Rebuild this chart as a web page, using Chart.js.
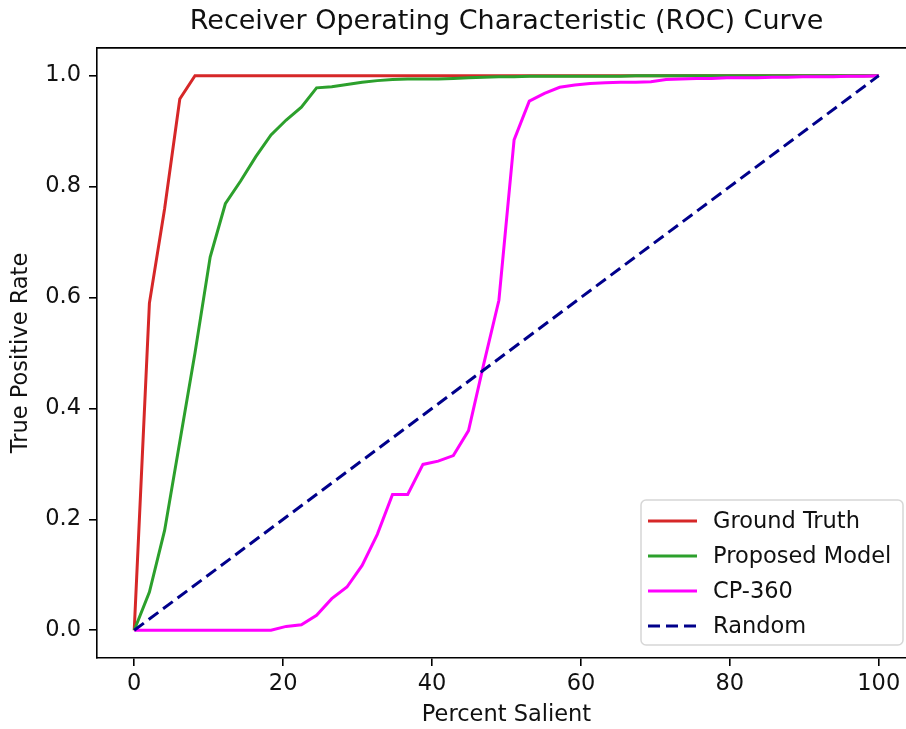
<!DOCTYPE html>
<html>
<head>
<meta charset="utf-8">
<script src="https://cdn.jsdelivr.net/npm/chart.js@4/dist/chart.umd.min.js"></script>
<style>
  body { margin: 0; background: #fff; }
  #wrap { width: 906px; height: 729px; overflow: hidden; }
  canvas { display: block; }
</style>
</head>
<body>
<div id="wrap"><canvas id="roc" width="925" height="729"></canvas></div>
<script>
// percent salient (x) shared by the three curves
const percentSalient = [0, 2.04, 4.08, 6.12, 8.16, 10.2, 12.24, 14.29, 16.33, 18.37,
    20.41, 22.45, 24.49, 26.53, 28.57, 30.61, 32.65, 34.69, 36.73, 38.78,
    40.82, 42.86, 44.9, 46.94, 48.98, 51.02, 53.06, 55.1, 57.14, 59.18,
    61.22, 63.27, 65.31, 67.35, 69.39, 71.43, 73.47, 75.51, 77.55, 79.59,
    81.63, 83.67, 85.71, 87.76, 89.8, 91.84, 93.88, 95.92, 97.96, 100];

const groundTruth = [0, 0.59, 0.76, 0.958, 1, 1, 1, 1, 1, 1,
    1, 1, 1, 1, 1, 1, 1, 1, 1, 1,
    1, 1, 1, 1, 1, 1, 1, 1, 1, 1,
    1, 1, 1, 1, 1, 1, 1, 1, 1, 1,
    1, 1, 1, 1, 1, 1, 1, 1, 1, 1];

const proposedModel = [0, 0.069, 0.18, 0.34, 0.5, 0.673, 0.769, 0.81, 0.854, 0.893,
    0.92, 0.943, 0.978, 0.98, 0.984, 0.988, 0.991, 0.993, 0.994, 0.994,
    0.994, 0.995, 0.996, 0.997, 0.998, 0.998, 0.999, 0.999, 0.999, 0.999,
    0.999, 0.999, 0.999, 1, 1, 1, 1, 1, 1, 1,
    1, 1, 1, 1, 1, 1, 1, 1, 1, 1];

const cp360 = [0, 0, 0, 0, 0, 0, 0, 0, 0, 0,
    0.007, 0.01, 0.027, 0.057, 0.078, 0.117, 0.173, 0.245, 0.245, 0.299,
    0.305, 0.315, 0.36, 0.48, 0.595, 0.884, 0.954, 0.968, 0.979, 0.983,
    0.986, 0.987, 0.988, 0.988, 0.989, 0.993, 0.994, 0.995, 0.995, 0.996,
    0.996, 0.996, 0.997, 0.997, 0.998, 0.998, 0.998, 0.999, 0.999, 1];

const randomX = [0, 100];
const randomY = [0, 1];

const xTicks = [0, 20, 40, 60, 80, 100];
const yTicks = [0, 0.2, 0.4, 0.6, 0.8, 1.0];

const FONT = "'DejaVu Sans', sans-serif";
const TXT = '#111';
const FS = 22.5;

function pts(xs, ys) {
    return xs.map((x, i) => ({ x: x, y: ys[i] }));
}

// legend drawn inside the plot, lower right, like matplotlib
const cornerLegend = {
    id: 'cornerLegend',
    afterDraw(chart) {
        const ctx = chart.ctx;
        const area = chart.chartArea;
        const items = chart.data.datasets;
        const w = 262, rowH = 35, h = 145;
        const x0 = area.right - 13 - w;
        const y0 = area.bottom - 13 - h;
        ctx.save();
        // frame
        ctx.globalAlpha = 0.8;
        ctx.fillStyle = '#fff';
        ctx.strokeStyle = '#cccccc';
        ctx.lineWidth = 1.5;
        ctx.beginPath();
        ctx.roundRect(x0, y0, w, h, 5);
        ctx.fill();
        ctx.stroke();
        ctx.globalAlpha = 1;
        ctx.font = FS + 'px ' + FONT;
        ctx.textBaseline = 'middle';
        ctx.fillStyle = TXT;
        items.forEach((ds, i) => {
            const cy = y0 + 21 + i * rowH;
            ctx.strokeStyle = ds.borderColor;
            ctx.lineWidth = ds.borderWidth;
            ctx.setLineDash(ds.borderDash || []);
            ctx.beginPath();
            ctx.moveTo(x0 + 7, cy);
            ctx.lineTo(x0 + 56, cy);
            ctx.stroke();
            ctx.setLineDash([]);
            ctx.fillText(ds.label, x0 + 72, cy + 1);
        });
        // top spine of the axes box
        ctx.strokeStyle = '#000';
        ctx.lineWidth = 1.6;
        ctx.beginPath();
        ctx.moveTo(area.left, area.top);
        ctx.lineTo(area.right, area.top);
        ctx.lineTo(area.right, area.bottom);
        ctx.stroke();
        ctx.restore();
    }
};

const ctx = document.getElementById('roc').getContext('2d');
new Chart(ctx, {
    type: 'line',
    data: {
        datasets: [
            { label: 'Ground Truth', data: pts(percentSalient, groundTruth), borderColor: '#d62728', borderWidth: 3, order: 4 },
            { label: 'Proposed Model', data: pts(percentSalient, proposedModel), borderColor: '#2ca02c', borderWidth: 3, order: 3 },
            { label: 'CP-360', data: pts(percentSalient, cp360), borderColor: '#ff00ff', borderWidth: 3, order: 2 },
            { label: 'Random', data: pts(randomX, randomY), borderColor: '#00008b', borderWidth: 3, borderDash: [12, 6], order: 1 }
        ]
    },
    options: {
        responsive: false,
        animation: false,
        layout: { padding: { left: 0, right: 9, top: 0, bottom: 0 } },
        elements: { point: { radius: 0 }, line: { tension: 0, fill: false } },
        plugins: {
            legend: { display: false },
            tooltip: { enabled: false },
            title: {
                display: true,
                fullSize: false,
                text: 'Receiver Operating Characteristic (ROC) Curve',
                color: TXT,
                font: { family: FONT, size: 27, weight: 'normal' },
                padding: { top: 6, bottom: 9.5 }
            }
        },
        scales: {
            x: {
                type: 'linear',
                min: -5,
                max: 105,
                afterBuildTicks: s => { s.ticks = xTicks.map(v => ({ value: v })); },
                afterFit: s => { s.height = 71; },
                grid: { display: true, drawOnChartArea: false, drawTicks: true, tickLength: 8, color: '#000', lineWidth: 1.6 },
                border: { display: true, color: '#000', width: 1.6 },
                ticks: { color: TXT, font: { family: FONT, size: FS }, padding: 5, maxRotation: 0 },
                title: { display: true, text: 'Percent Salient', color: TXT, font: { family: FONT, size: FS }, padding: { top: 0, bottom: 0 } }
            },
            y: {
                type: 'linear',
                min: -0.05,
                max: 1.05,
                afterBuildTicks: s => { s.ticks = yTicks.map(v => ({ value: v })); },
                afterFit: s => { s.width = 97; },
                grid: { display: true, drawOnChartArea: false, drawTicks: true, tickLength: 8, color: '#000', lineWidth: 1.6 },
                border: { display: true, color: '#000', width: 1.6 },
                ticks: { color: TXT, font: { family: FONT, size: FS }, padding: 8, callback: v => v.toFixed(1) },
                title: { display: true, text: 'True Positive Rate', color: TXT, font: { family: FONT, size: FS }, padding: { top: 8, bottom: 0 } }
            }
        }
    },
    plugins: [cornerLegend]
});
</script>
</body>
</html>
